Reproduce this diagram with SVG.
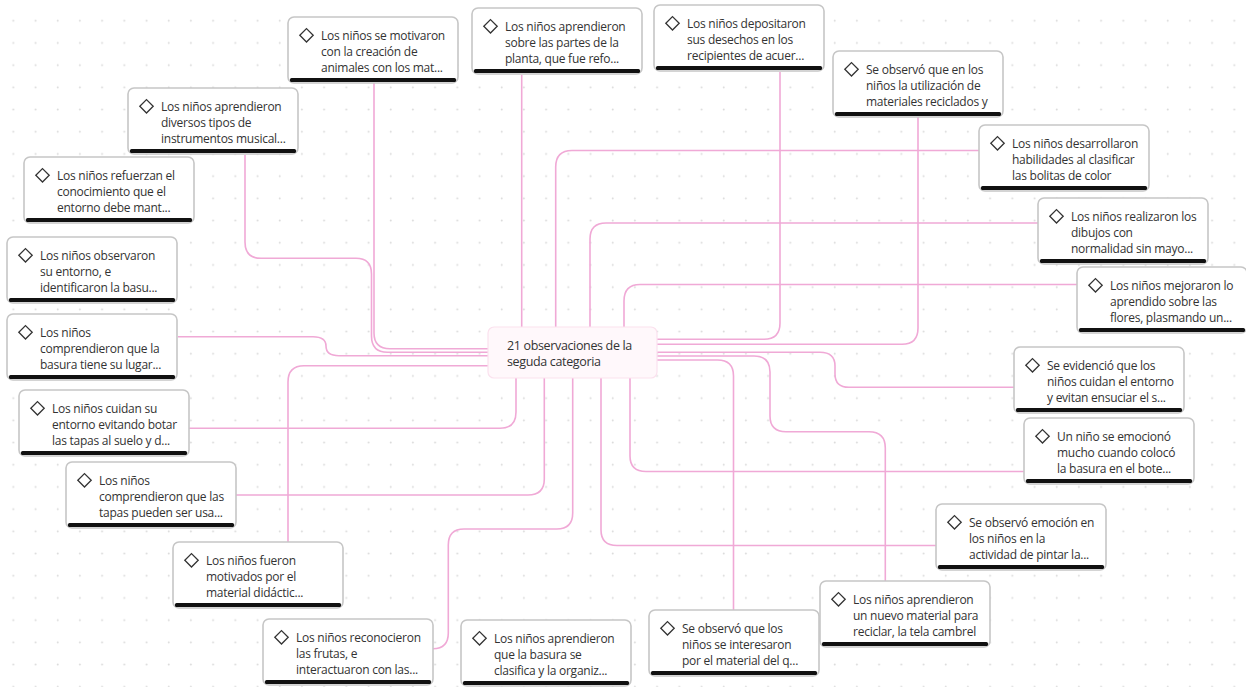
<svg xmlns="http://www.w3.org/2000/svg" width="1246" height="687" viewBox="0 0 1246 687">
<defs>
<pattern id="dots" x="0" y="0" width="22.2" height="22.2" patternUnits="userSpaceOnUse">
<circle cx="13.3" cy="20.7" r="1" fill="#dadada"/>
</pattern>
<g id="card">
<rect x="0" y="0" width="170" height="66" rx="6" fill="#ffffff" stroke="#c6c6c6" stroke-width="1.6"/>
<rect x="2" y="61" width="166" height="4" rx="1.5" fill="#111111"/>
<polygon points="18.5,11.6 25.2,18.3 18.5,25 11.8,18.3" fill="none" stroke="#333333" stroke-width="1.3"/>
</g>
</defs>
<style>
.conn path{fill:none;stroke:#f0a9d6;stroke-width:1.6}
.t{font-family:"Open Sans","Noto Sans",sans-serif;font-size:12px;letter-spacing:-0.25px;fill:#333333}
.ct{font-family:"Open Sans","Noto Sans",sans-serif;font-size:12.5px;letter-spacing:-0.35px;fill:#333333}
</style>
<rect width="1246" height="687" fill="#ffffff"/>
<rect width="1246" height="687" fill="url(#dots)"/>
<g id="connectors" class="conn">
<path d="M374,82 V333 Q374,348.7 390,348.7 H488"/>
<path d="M245,155 V242 Q245,258.3 261,258.3 H356 Q371.5,258.3 371.5,274 V336 Q371.5,352.3 387.5,352.3 H488"/>
<path d="M178,336.7 H313 Q326,336.7 326,346 Q326,355.7 339,355.7 H488"/>
<path d="M488,365.7 H304 Q288,365.7 288,382 V542"/>
<path d="M189,428.3 H500 Q516,428.3 516,412 V378"/>
<path d="M236,495 H528 Q544.3,495 544.3,479 V378"/>
<path d="M572.7,378 V513 Q572.7,529 556.7,529 H464 Q448.3,529 448.3,545 V633 Q448.3,648.7 433,648.7"/>
<path d="M601,378 V530 Q601,545.5 617,545.5 H936"/>
<path d="M630,378 V456 Q630,471.5 646,471.5 H1024"/>
<path d="M657,360 H717.5 Q733.5,360 733.5,376 V610"/>
<path d="M657,356 H754 Q770,356 770,372 V416 Q770,431.7 786,431.7 H869 Q885.3,431.7 885.3,448 V581"/>
<path d="M657,352.3 H820 Q835,352.3 835,366 V374 Q835,387.3 849,387.3 H1014"/>
<path d="M918,117 V328 Q918,344.3 902,344.3 H657"/>
<path d="M780,72 V323 Q780,339.3 764,339.3 H657"/>
<path d="M624,327 V301 Q624,284.5 640,284.5 H1077"/>
<path d="M590,327 V239 Q590,223 606,223 H1038"/>
<path d="M555.7,327 V167 Q555.7,150.5 572,150.5 H979"/>
<path d="M521.7,75 V327"/>
</g>
<g id="center">
<rect x="488" y="327" width="169" height="51" rx="6" fill="#fff8fb" stroke="#fbe1ee" stroke-width="1.2"/>
<text class="ct" x="507" y="349.5">21 observaciones de la</text>
<text class="ct" x="507" y="365.5">seguda categoria</text>
</g>
<g id="nA" transform="translate(288,17)"><use href="#card"/><text class="t" x="33" y="22.8">Los niños se motivaron</text><text class="t" x="33" y="38.8">con la creación de</text><text class="t" x="33" y="54.8">animales con los mat...</text></g>
<g id="nB" transform="translate(128,88)"><use href="#card"/><text class="t" x="33" y="22.8">Los niños aprendieron</text><text class="t" x="33" y="38.8">diversos tipos de</text><text class="t" x="33" y="54.8">instrumentos musical...</text></g>
<g id="nC" transform="translate(24,157)"><use href="#card"/><text class="t" x="33" y="22.8">Los niños refuerzan el</text><text class="t" x="33" y="38.8">conocimiento que el</text><text class="t" x="33" y="54.8">entorno debe mant...</text></g>
<g id="nD" transform="translate(472,8)"><use href="#card"/><text class="t" x="33" y="22.8">Los niños aprendieron</text><text class="t" x="33" y="38.8">sobre las partes de la</text><text class="t" x="33" y="54.8">planta, que fue refo...</text></g>
<g id="nE" transform="translate(654,5)"><use href="#card"/><text class="t" x="33" y="22.8">Los niños depositaron</text><text class="t" x="33" y="38.8">sus desechos en los</text><text class="t" x="33" y="54.8">recipientes de acuer...</text></g>
<g id="nF" transform="translate(833,51)"><use href="#card"/><text class="t" x="33" y="22.8">Se observó que en los</text><text class="t" x="33" y="38.8">niños la utilización de</text><text class="t" x="33" y="54.8">materiales reciclados y</text></g>
<g id="nG" transform="translate(979,125)"><use href="#card"/><text class="t" x="33" y="22.8">Los niños desarrollaron</text><text class="t" x="33" y="38.8">habilidades al clasificar</text><text class="t" x="33" y="54.8">las bolitas de color</text></g>
<g id="nH" transform="translate(1038,198)"><use href="#card"/><text class="t" x="33" y="22.8">Los niños realizaron los</text><text class="t" x="33" y="38.8">dibujos con</text><text class="t" x="33" y="54.8">normalidad sin mayo...</text></g>
<g id="nI" transform="translate(1077,267)"><use href="#card"/><text class="t" x="33" y="22.8">Los niños mejoraron lo</text><text class="t" x="33" y="38.8">aprendido sobre las</text><text class="t" x="33" y="54.8">flores, plasmando un...</text></g>
<g id="nJ" transform="translate(1014,347)"><use href="#card"/><text class="t" x="33" y="22.8">Se evidenció que los</text><text class="t" x="33" y="38.8">niños cuidan el entorno</text><text class="t" x="33" y="54.8">y evitan ensuciar el s...</text></g>
<g id="nK" transform="translate(1024,418)"><use href="#card"/><text class="t" x="33" y="22.8">Un niño se emocionó</text><text class="t" x="33" y="38.8">mucho cuando colocó</text><text class="t" x="33" y="54.8">la basura en el bote...</text></g>
<g id="nL" transform="translate(936,504)"><use href="#card"/><text class="t" x="33" y="22.8">Se observó emoción en</text><text class="t" x="33" y="38.8">los niños en la</text><text class="t" x="33" y="54.8">actividad de pintar la...</text></g>
<g id="nM" transform="translate(820,581)"><use href="#card"/><text class="t" x="33" y="22.8">Los niños aprendieron</text><text class="t" x="33" y="38.8">un nuevo material para</text><text class="t" x="33" y="54.8">reciclar, la tela cambrel</text></g>
<g id="nN" transform="translate(649,610)"><use href="#card"/><text class="t" x="33" y="22.8">Se observó que los</text><text class="t" x="33" y="38.8">niños se interesaron</text><text class="t" x="33" y="54.8">por el material del q...</text></g>
<g id="nO" transform="translate(461,620)"><use href="#card"/><text class="t" x="33" y="22.8">Los niños aprendieron</text><text class="t" x="33" y="38.8">que la basura se</text><text class="t" x="33" y="54.8">clasifica y la organiz...</text></g>
<g id="nP" transform="translate(263,619)"><use href="#card"/><text class="t" x="33" y="22.8">Los niños reconocieron</text><text class="t" x="33" y="38.8">las frutas, e</text><text class="t" x="33" y="54.8">interactuaron con las...</text></g>
<g id="nQ" transform="translate(173,542)"><use href="#card"/><text class="t" x="33" y="22.8">Los niños fueron</text><text class="t" x="33" y="38.8">motivados por el</text><text class="t" x="33" y="54.8">material didáctic...</text></g>
<g id="nR" transform="translate(66,462)"><use href="#card"/><text class="t" x="33" y="22.8">Los niños</text><text class="t" x="33" y="38.8">comprendieron que las</text><text class="t" x="33" y="54.8">tapas pueden ser usa...</text></g>
<g id="nS" transform="translate(19,390)"><use href="#card"/><text class="t" x="33" y="22.8">Los niños cuidan su</text><text class="t" x="33" y="38.8">entorno evitando botar</text><text class="t" x="33" y="54.8">las tapas al suelo y d...</text></g>
<g id="nT" transform="translate(7,314)"><use href="#card"/><text class="t" x="33" y="22.8">Los niños</text><text class="t" x="33" y="38.8">comprendieron que la</text><text class="t" x="33" y="54.8">basura tiene su lugar...</text></g>
<g id="nU" transform="translate(7,237)"><use href="#card"/><text class="t" x="33" y="22.8">Los niños observaron</text><text class="t" x="33" y="38.8">su entorno, e</text><text class="t" x="33" y="54.8">identificaron la basu...</text></g>
</svg>
